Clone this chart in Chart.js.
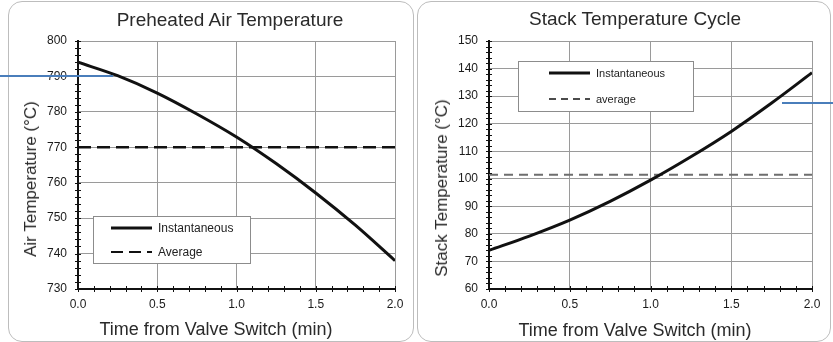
<!DOCTYPE html>
<html>
<head>
<meta charset="utf-8">
<script src="https://cdn.jsdelivr.net/npm/chart.js@4.4.1/dist/chart.umd.min.js"></script>
<style>
    body { margin: 0; background: #fff; font-family: "Liberation Sans", Arial, sans-serif; }
    #wrap { position: relative; width: 833px; height: 342px; overflow: hidden; }
    .panel { position: absolute; border: 1.5px solid #bdbdbd; border-radius: 14px; box-sizing: border-box; }
    .cv { position: absolute; top: 0; }
    .txt { position: absolute; width: 0; height: 0; color: #2a2a2a; white-space: nowrap; }
    .txt span { position: absolute; left: 0; top: 0; transform: translate(-50%, -50%); }
    .txt.rot span { transform: translate(-50%, -50%) rotate(-90deg); }
    .blue { position: absolute; height: 1.5px; background: #4a7ebb; }
</style>
</head>
<body>
<div id="wrap">
    <div class="panel" style="left:8px; top:1px; width:406px; height:341px;"></div>
    <div class="panel" style="left:417px; top:1px; width:414px; height:341px;"></div>

    <canvas id="airChart" class="cv" style="left:0px;" width="416" height="342"></canvas>
    <canvas id="stackChart" class="cv" style="left:416px;" width="417" height="342"></canvas>

    <div class="txt" style="left:230px; top:20px; font-size:19px;"><span>Preheated Air Temperature</span></div>
    <div class="txt" style="left:216px; top:329px; font-size:18px;"><span>Time from Valve Switch (min)</span></div>
    <div class="txt rot" style="left:31px; top:179px; font-size:17px;"><span>Air Temperature (°C)</span></div>

    <div class="txt" style="left:635px; top:19px; font-size:19px;"><span>Stack Temperature Cycle</span></div>
    <div class="txt" style="left:635px; top:330px; font-size:18px;"><span>Time from Valve Switch (min)</span></div>
    <div class="txt rot" style="left:442px; top:188px; font-size:17px;"><span>Stack Temperature (°C)</span></div>

    <div class="blue" style="left:0px; top:75px; width:113px;"></div>
    <div class="blue" style="left:782px; top:102px; width:51px;"></div>
</div>

<script>
var timeValues = [0, 0.25, 0.5, 0.75, 1.0, 1.25, 1.5, 1.75, 2.0];

// Preheated air temperature (C), instantaneous and cycle average
var airInstant = [794, 790.2, 785.3, 779.4, 772.9, 765.4, 757.1, 748, 738];
var airAverage = 770;

// Stack temperature (C), instantaneous and cycle average
var stackInstant = [74, 79.2, 85, 91.8, 99.5, 108, 117.2, 127.5, 138.5];
var stackAverage = 101.5;

// Axis ranges and legend labels
var xTicks = [0, 2, 0.5];
var airTicks = [730, 800, 10];
var stackTicks = [60, 150, 10];
var airLabels = ["Instantaneous", "Average"];
var stackLabels = ["Instantaneous", "average"];

// Turn the two arrays into {x, y} points for a linear x axis
function toPoints(xs, ys) {
    var pts = [];
    for (var i = 0; i < xs.length; i++) {
        pts.push({ x: xs[i], y: ys[i] });
    }
    return pts;
}

// Flat line across the whole time range for the average value
function flatLine(value) {
    return [{ x: timeValues[0], y: value }, { x: timeValues[timeValues.length - 1], y: value }];
}

// Small tick marks that cross the left and bottom axis lines
var minorTicks = {
    id: 'minorTicks',
    afterDraw: function(chart, args, opts) {
        var ctx = chart.ctx;
        var xs = chart.scales.x;
        var ys = chart.scales.y;
        var area = chart.chartArea;
        ctx.save();
        ctx.strokeStyle = '#111';
        ctx.lineWidth = 1;
        ctx.beginPath();
        var n = Math.round((ys.max - ys.min) / opts.y);
        for (var i = 0; i <= n; i++) {
            var py = Math.round(ys.getPixelForValue(ys.min + i * opts.y)) + 0.5;
            ctx.moveTo(area.left - 3, py);
            ctx.lineTo(area.left + 3, py);
        }
        var m = Math.round((xs.max - xs.min) / opts.x);
        for (var j = 0; j <= m; j++) {
            var px = Math.round(xs.getPixelForValue(xs.min + j * opts.x)) + 0.5;
            ctx.moveTo(px, area.bottom - 3);
            ctx.lineTo(px, area.bottom + 3);
        }
        ctx.stroke();
        ctx.restore();
    }
};

// Boxed legend sitting inside the plot, like the original
var boxLegend = {
    id: 'boxLegend',
    afterDraw: function(chart, args, opts) {
        var ctx = chart.ctx;
        ctx.save();
        ctx.fillStyle = '#fff';
        ctx.fillRect(opts.x, opts.y, opts.w, opts.h);
        ctx.strokeStyle = '#8c8c8c';
        ctx.lineWidth = 1;
        ctx.strokeRect(opts.x + 0.5, opts.y + 0.5, opts.w, opts.h);
        chart.data.datasets.forEach(function(ds, i) {
            var rowY = opts.rows[i];
            ctx.beginPath();
            ctx.setLineDash(opts.dash[i]);
            ctx.strokeStyle = '#111';
            ctx.lineWidth = opts.width[i];
            ctx.moveTo(opts.lineX[0], rowY);
            ctx.lineTo(opts.lineX[1], rowY);
            ctx.stroke();
            ctx.setLineDash([]);
            ctx.fillStyle = '#222';
            ctx.font = opts.font + 'px "Liberation Sans", Arial, sans-serif';
            ctx.textBaseline = 'middle';
            ctx.fillText(ds.label, opts.lineX[1] + 6, rowY + 1);
        });
        ctx.restore();
    }
};

// Shared scale setup for both charts
function makeScales(yRange, yWidth) {
    return {
        x: {
            type: 'linear',
            min: xTicks[0],
            max: xTicks[1],
            afterFit: function(s) { s.height = 50; },
            ticks: {
                stepSize: xTicks[2],
                padding: 8,
                color: '#1a1a1a',
                font: { size: 12, family: '"Liberation Sans", Arial, sans-serif' },
                callback: function(v) { return Number(v).toFixed(1); }
            },
            grid: { color: '#9a9a9a', lineWidth: 1, drawTicks: false },
            border: { color: '#111', width: 2 }
        },
        y: {
            min: yRange[0],
            max: yRange[1],
            afterFit: function(s) { s.width = yWidth; },
            ticks: {
                stepSize: yRange[2],
                padding: 11,
                color: '#1a1a1a',
                font: { size: 12, family: '"Liberation Sans", Arial, sans-serif' }
            },
            grid: { color: '#9a9a9a', lineWidth: 1, drawTicks: false },
            border: { color: '#111', width: 2 }
        }
    };
}

// Left chart: preheated air temperature
var airChart = new Chart(document.getElementById('airChart'), {
    type: 'line',
    data: {
        datasets: [
            {
                label: airLabels[0],
                data: toPoints(timeValues, airInstant),
                borderColor: '#111',
                borderWidth: 3,
                pointRadius: 0,
                cubicInterpolationMode: 'monotone',
                fill: false
            },
            {
                label: airLabels[1],
                data: flatLine(airAverage),
                borderColor: '#111',
                borderWidth: 2.5,
                borderDash: [13, 6],
                pointRadius: 0,
                fill: false
            }
        ]
    },
    options: {
        responsive: false,
        animation: false,
        layout: { padding: { left: 14, right: 21, top: 41, bottom: 3 } },
        scales: makeScales(airTicks, 64),
        plugins: {
            legend: { display: false },
            tooltip: { enabled: false },
            minorTicks: { x: 0.1, y: 2 },
            boxLegend: { x: 93, y: 216, w: 157, h: 47, rows: [228, 252], lineX: [111, 152],
                dash: [[], [12, 6]], width: [3, 2], font: 12 }
        }
    },
    plugins: [minorTicks, boxLegend]
});

// Right chart: stack temperature cycle
var stackChart = new Chart(document.getElementById('stackChart'), {
    type: 'line',
    data: {
        datasets: [
            {
                label: stackLabels[0],
                data: toPoints(timeValues, stackInstant),
                borderColor: '#111',
                borderWidth: 3,
                pointRadius: 0,
                cubicInterpolationMode: 'monotone',
                fill: false
            },
            {
                label: stackLabels[1],
                data: flatLine(stackAverage),
                borderColor: '#6e6e6e',
                borderWidth: 2,
                borderDash: [9, 6],
                pointRadius: 0,
                fill: false
            }
        ]
    },
    options: {
        responsive: false,
        animation: false,
        layout: { padding: { left: 8, right: 21, top: 41, bottom: 3 } },
        scales: makeScales(stackTicks, 65),
        plugins: {
            legend: { display: false },
            tooltip: { enabled: false },
            minorTicks: { x: 0.1, y: 2 },
            boxLegend: { x: 102, y: 61, w: 175, h: 50, rows: [73, 99], lineX: [133, 174],
                dash: [[], [7, 5]], width: [3, 1.5], font: 11 }
        }
    },
    plugins: [minorTicks, boxLegend]
});
</script>
</body>
</html>
